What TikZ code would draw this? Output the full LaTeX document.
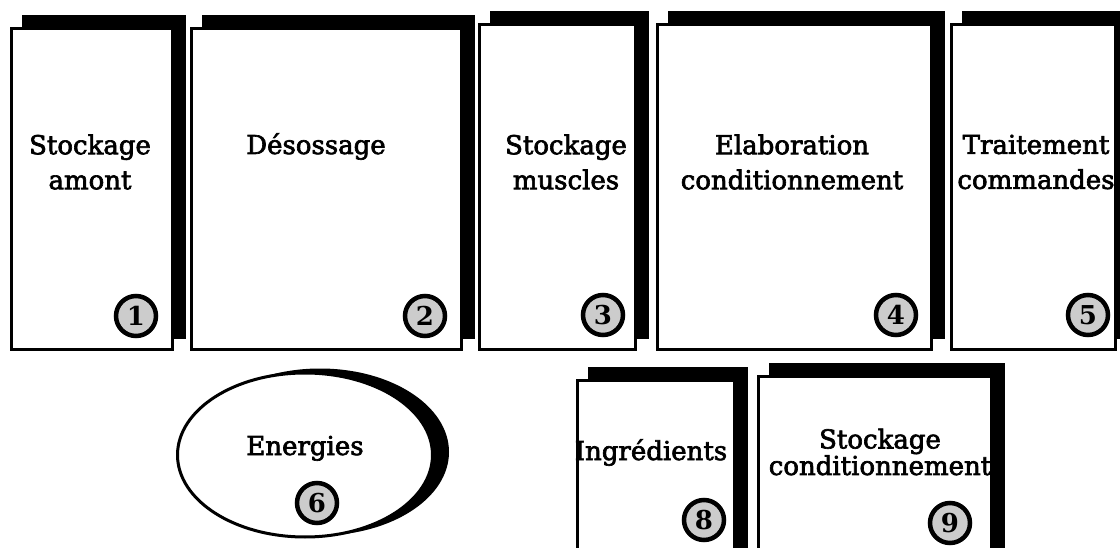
\documentclass[tikz,border=0pt]{standalone}
\usepackage{fontspec}
\setmainfont{DejaVu Serif}
\newfontfamily\lblfont{DejaVu Serif}[FakeBold=2.5]
\usetikzlibrary{shapes.geometric,shadows}
\tikzset{
  procbox/.style={rectangle, draw=black, line width=3pt, fill=white, anchor=north west, inner sep=0pt,
    general shadow={fill=black, draw=black, line width=3pt, shadow xshift=12pt, shadow yshift=12pt}},
  ovalbox/.style={ellipse, draw=black, line width=3pt, fill=white, inner sep=0pt,
    general shadow={fill=black, draw=black, line width=3pt, shadow xshift=15pt, shadow yshift=3pt}},
  lbl/.style={align=center, inner sep=0pt, font=\lblfont\fontsize{26}{35}\selectfont},
  lbltight/.style={align=center, inner sep=0pt, font=\lblfont\fontsize{26}{23}\selectfont},
  num/.style={circle, draw=black, line width=4.5pt, fill=gray!40, minimum size=40pt, inner sep=0pt,
    font=\fontsize{26}{26}\selectfont\bfseries},
}
\begin{document}
\begin{tikzpicture}[x=1pt,y=-1pt]
\useasboundingbox (0,0) rectangle (1120,548);
\clip (0,0) rectangle (1120,548);
\fill[white] (0,0) rectangle (1120,548);
% top row
\node[procbox, minimum width=161pt, minimum height=321pt] (b1) at (10,27) {};
\node[procbox, minimum width=270pt, minimum height=321pt] (b2) at (190,27) {};
\node[procbox, minimum width=156pt, minimum height=325pt] (b3) at (478,23) {};
\node[procbox, minimum width=274pt, minimum height=325pt] (b4) at (656,23) {};
\node[procbox, minimum width=164pt, minimum height=325pt] (b5) at (950,23) {};
% bottom row
\node[ovalbox, minimum width=255pt, minimum height=164pt] (e6) at (305,455) {};
\node[procbox, minimum width=157pt, minimum height=200pt] (b8) at (576,379) {};
\node[procbox, minimum width=233pt, minimum height=200pt] (b9) at (757,375) {};
% labels
\node[lbl] (t1) at (90,162) {Stockage\\amont};
\node[lbl, anchor=base] (t2) at (316,154) {Désossage};
\node[lbl] (t3) at (566,162) {Stockage\\muscles};
\node[lbl] (t4) at (792,162) {Elaboration\\conditionnement};
\node[lbl] (t5) at (1036,162) {Traitement\\commandes};
\node[lbl, anchor=base] (t6) at (305,455) {Energies};
\node[lbl, anchor=base] (t8) at (651,460) {Ingrédients};
\node[lbltight] (t9) at (880,452) {Stockage\\conditionnement};
% numbers
\node[num] (n1) at (136,316) {1};
\node[num] (n2) at (425,316) {2};
\node[num] (n3) at (603,315) {3};
\node[num] (n4) at (896,315) {4};
\node[num] (n5) at (1088,315) {5};
\node[num] (n6) at (317,503) {6};
\node[num] (n8) at (704,520) {8};
\node[num] (n9) at (950,523) {9};
\end{tikzpicture}
\end{document}
